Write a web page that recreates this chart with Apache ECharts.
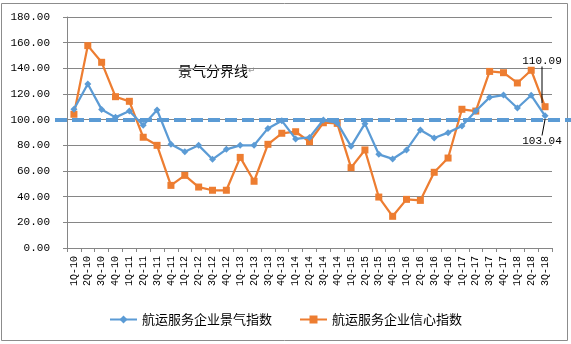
<!DOCTYPE html>
<html>
<head>
<meta charset="utf-8">
<script src="https://cdn.jsdelivr.net/npm/echarts@6/dist/echarts.min.js"></script>
<style>
html,body{margin:0;padding:0;background:#fff;}
#chart{width:571px;height:344px;}
</style>
</head>
<body>
<div id="chart"></div>
<script>
const categories = [
  '1Q-10','2Q-10','3Q-10','4Q-10',
  '1Q-11','2Q-11','3Q-11','4Q-11',
  '1Q-12','2Q-12','3Q-12','4Q-12',
  '1Q-13','2Q-13','3Q-13','4Q-13',
  '1Q-14','2Q-14','3Q-14','4Q-14',
  '1Q-15','2Q-15','3Q-15','4Q-15',
  '1Q-16','2Q-16','3Q-16','4Q-16',
  '1Q-17','2Q-17','3Q-17','4Q-17',
  '1Q-18','2Q-18','3Q-18'
];
const prosperityIndex = [
  108.1, 127.8, 108.0, 101.8,
  106.7, 95.6, 107.5, 80.8,
  75.0, 80.0, 69.1, 76.9,
  80.0, 80.0, 93.2, 99.2,
  85.0, 86.2, 99.7, 97.5,
  79.2, 96.9, 73.0, 69.4,
  76.4, 91.9, 85.7, 89.9,
  95.0, 106.7, 117.4, 119.2,
  109.1, 119.0, 103.04
];
const confidenceIndex = [
  104.2, 157.7, 144.7, 117.9,
  114.3, 86.3, 80.0, 48.8,
  56.6, 47.5, 45.0, 45.0,
  70.6, 52.0, 80.8, 89.4,
  90.6, 82.8, 97.6, 97.1,
  62.6, 76.4, 39.7, 24.7,
  37.9, 37.1, 59.0, 70.1,
  108.1, 106.7, 137.6, 136.6,
  128.6, 138.5, 110.09
];
const yTicks = [0, 20, 40, 60, 80, 100, 120, 140, 160, 180];
const boundaryValue = 100;
const seriesNames = ['航运服务企业景气指数', '航运服务企业信心指数'];
const boundaryText = '景气分界线';

const monoFont = '"Liberation Mono", "DejaVu Sans Mono", monospace';
const cjkFont = '"Noto Sans CJK SC", sans-serif';
const lastIdx = categories.length - 1;

function withLastLabel(arr) {
  return arr.map((v, i) => i === lastIdx
    ? {
        value: v,
        label: {
          show: true, formatter: p => p.value.toFixed(2),
          fontFamily: monoFont, fontSize: 11, color: '#000'
        },
        labelLine: { show: true, lineStyle: { color: '#000', width: 1 } }
      }
    : v);
}

const chart = echarts.init(document.getElementById('chart'), null, { renderer: 'canvas' });
chart.setOption({
  animation: false,
  backgroundColor: '#fff',
  grid: { left: 67, right: 19, top: 17, bottom: 96, containLabel: false },
  xAxis: {
    type: 'category',
    data: categories,
    boundaryGap: true,
    axisLine: { lineStyle: { color: '#868686', width: 1 } },
    axisTick: { show: true, length: 4, lineStyle: { color: '#868686' } },
    axisLabel: {
      rotate: 90, interval: 0, margin: 8,
      fontFamily: monoFont, fontSize: 10, color: '#000'
    }
  },
  yAxis: {
    type: 'value',
    min: yTicks[0], max: yTicks[yTicks.length - 1], interval: 20,
    axisLine: { show: true, lineStyle: { color: '#868686', width: 1 } },
    axisTick: { show: true, length: 4, lineStyle: { color: '#868686' } },
    splitLine: { show: true, lineStyle: { color: '#868686', width: 1 } },
    axisLabel: {
      margin: 17, fontFamily: monoFont, fontSize: 11, color: '#000',
      formatter: v => v.toFixed(2)
    }
  },
  legend: {
    bottom: 13, left: 'center', itemGap: 27, itemWidth: 27, itemHeight: 10,
    textStyle: { fontFamily: cjkFont, fontSize: 13, color: '#000' },
    data: seriesNames
  },
  graphic: [
    {
      type: 'rect', shape: { x: 1.5, y: 3.5, width: 566, height: 337 },
      style: { fill: 'none', stroke: '#8c8c8c', lineWidth: 1 }, silent: true, z: 0
    },
    {
      type: 'text', left: 178, top: 64,
      style: {
        text: boundaryText + '{r|↵}',
        font: '14px ' + cjkFont, fill: '#000',
        rich: { r: { fontSize: 9, fill: '#999', fontFamily: 'DejaVu Sans' } }
      }
    }
  ],
  series: [
    {
      name: seriesNames[0], type: 'line',
      data: withLastLabel(prosperityIndex),
      symbol: 'diamond', symbolSize: 7,
      lineStyle: { color: '#5B9BD5', width: 2.25 },
      itemStyle: { color: '#5B9BD5' },
      labelLayout: { x: 542, y: 141, align: 'center', verticalAlign: 'middle', hideOverlap: false },
      z: 3,
      markLine: {
        silent: true, symbol: 'none', label: { show: false },
        lineStyle: { color: '#5B9BD5', width: 4, type: [12, 5] },
        data: [[
          { coord: [0, boundaryValue], x: 55 },
          { coord: [lastIdx, boundaryValue], x: 571 }
        ]]
      }
    },
    {
      name: seriesNames[1], type: 'line',
      data: withLastLabel(confidenceIndex),
      symbol: 'rect', symbolSize: 7,
      lineStyle: { color: '#ED7D31', width: 2.25 },
      itemStyle: { color: '#ED7D31' },
      labelLayout: { x: 542, y: 61, align: 'center', verticalAlign: 'middle', hideOverlap: false },
      z: 2
    }
  ]
});
</script>
</body>
</html>
